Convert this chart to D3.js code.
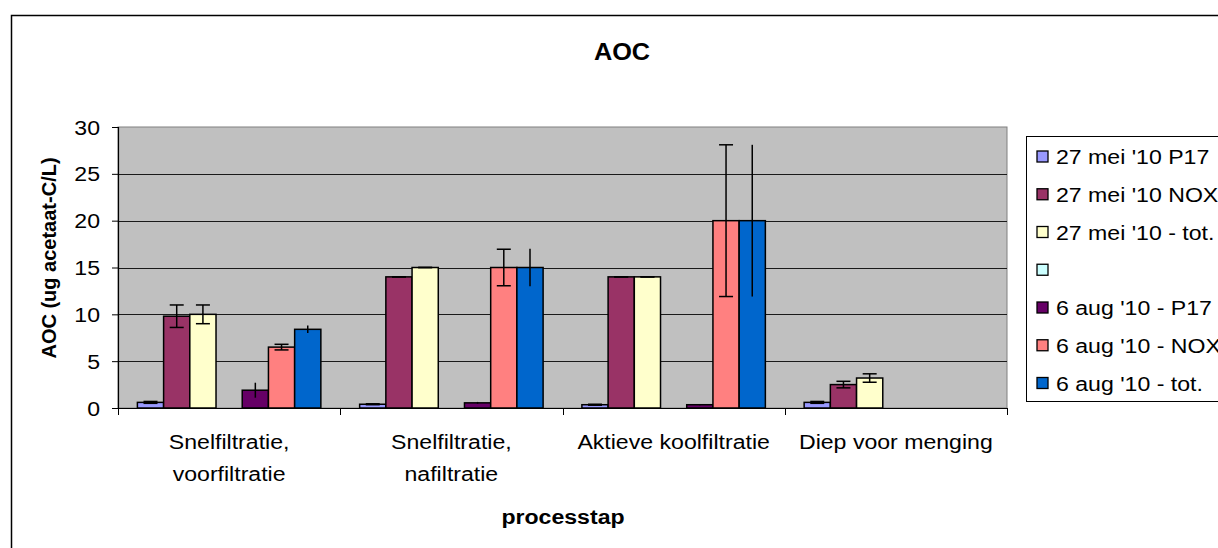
<!DOCTYPE html>
<html>
<head>
<meta charset="utf-8">
<script src="https://cdn.jsdelivr.net/npm/d3@7"></script>
<style>
  html, body { margin: 0; padding: 0; background: #fff; }
  svg { display: block; font-family: "Liberation Sans", Arial, sans-serif; }
</style>
</head>
<body>
<svg id="chart" width="1218" height="548"></svg>
<script>
// ---- data ----
const categories = [
  ["Snelfiltratie,", "voorfiltratie"],
  ["Snelfiltratie,", "nafiltratie"],
  ["Aktieve koolfiltratie"],
  ["Diep voor menging"]
];
const seriesNames = [
  "27 mei '10 P17",
  "27 mei '10 NOX",
  "27 mei '10 - tot.",
  "",
  "6 aug '10 - P17",
  "6 aug '10 - NOX",
  "6 aug '10 - tot."
];
const mei27P17   = [0.6, 0.4, 0.35, 0.6];
const mei27NOX   = [9.8, 14.0, 14.0, 2.5];
const mei27Tot   = [10.0, 15.0, 14.0, 3.2];
const emptySeries = [null, null, null, null];
const aug6P17    = [1.9, 0.55, 0.35, null];
const aug6NOX    = [6.5, 15.0, 20.0, null];
const aug6Tot    = [8.4, 15.0, 20.0, null];

const err27P17 = [0.1, 0.05, 0.05, 0.1];
const err27NOX = [1.2, 0, 0, 0.35];
const err27Tot = [1.0, 0, 0, 0.45];
const errEmpty = [null, null, null, null];
const err6P17  = [0.8, 0.1, 0.05, null];
const err6NOX  = [0.3, 1.95, 8.1, null];
const err6Tot  = [0.4, 2.0, 8.1, null];

const yTicks = [0, 5, 10, 15, 20, 25, 30];
const titleText = "AOC";
const yTitle = "AOC (ug acetaat-C/L)";
const xTitle = "processtap";

// ---- styles ----
const colors = ["#9999FF", "#993366", "#FFFFCC", "#CCFFFF", "#660066", "#FF8080", "#0066CC"];
const hasCaps = [true, true, true, false, false, true, false];
const allValues = [mei27P17, mei27NOX, mei27Tot, emptySeries, aug6P17, aug6NOX, aug6Tot];
const allErrors = [err27P17, err27NOX, err27Tot, errEmpty, err6P17, err6NOX, err6Tot];

const svg = d3.select("#chart");
const SX = 1.1; // horizontal stretch of text
const FONT = 21;

function hText(parent, x, y, str, opts = {}) {
  const g = parent.append("g").attr("transform", `translate(${x},${y}) scale(${SX},1)`);
  g.append("text")
    .attr("x", 0).attr("y", 0)
    .attr("text-anchor", opts.anchor || "middle")
    .attr("font-size", opts.size || FONT)
    .attr("font-weight", opts.weight || "normal")
    .attr("fill", "#000")
    .text(str);
  return g;
}

// outer frame
svg.append("rect")
  .attr("x", 11.5).attr("y", 15.5).attr("width", 1300).attr("height", 700)
  .attr("fill", "#fff").attr("stroke", "#000").attr("stroke-width", 1.5);

const plot = { left: 118, right: 1007, top: 127, bottom: 408 };

const y = d3.scaleLinear().domain([0, 30]).range([plot.bottom, plot.top]);
const x0 = d3.scaleBand().domain(d3.range(categories.length)).range([plot.left, plot.right]).padding(0);
const x1 = d3.scaleBand().domain(d3.range(seriesNames.length)).range([0, x0.bandwidth()])
  .paddingInner(0).paddingOuter(0.74);

// plot background
svg.append("rect")
  .attr("x", plot.left).attr("y", plot.top)
  .attr("width", plot.right - plot.left).attr("height", plot.bottom - plot.top)
  .attr("fill", "#C0C0C0").attr("stroke", "#808080").attr("stroke-width", 1);

// gridlines
svg.append("g").selectAll("line")
  .data(yTicks.filter(t => t > 0 && t < 30))
  .join("line")
  .attr("x1", plot.left).attr("x2", plot.right)
  .attr("y1", d => Math.round(y(d)) + 0.5).attr("y2", d => Math.round(y(d)) + 0.5)
  .attr("stroke", "#1a1a1a").attr("stroke-width", 1);

// y axis
const yAxis = d3.axisLeft(y).tickValues(yTicks).tickSize(6).tickFormat("");
const yg = svg.append("g").attr("transform", `translate(${plot.left},0)`).call(yAxis);
yg.select(".domain").attr("stroke", "#000").attr("stroke-width", 1.2);
yg.selectAll(".tick line").attr("stroke", "#000");
yTicks.forEach(t => hText(svg, 100, y(t) + 7.5, String(t), { anchor: "end" }));

// x axis
svg.append("line")
  .attr("x1", plot.left).attr("x2", plot.right)
  .attr("y1", plot.bottom + 0.5).attr("y2", plot.bottom + 0.5)
  .attr("stroke", "#000").attr("stroke-width", 1.2);
const xBounds = d3.range(categories.length + 1).map(i => i < categories.length ? x0(i) : plot.right);
svg.append("g").selectAll("line")
  .data(xBounds)
  .join("line")
  .attr("x1", d => Math.round(d) + 0.5).attr("x2", d => Math.round(d) + 0.5)
  .attr("y1", plot.bottom).attr("y2", plot.bottom + 7)
  .attr("stroke", "#000").attr("stroke-width", 1);

// category labels
categories.forEach((lines, i) => {
  const cx = x0(i) + x0.bandwidth() / 2;
  lines.forEach((ln, j) => hText(svg, cx, 449 + j * 32, ln));
});

// bars
const barData = [];
allValues.forEach((vals, s) => {
  vals.forEach((v, c) => {
    if (v !== null) barData.push({ s, c, v, e: allErrors[s][c] });
  });
});

svg.append("g").selectAll("rect")
  .data(barData)
  .join("rect")
  .attr("x", d => x0(d.c) + x1(d.s))
  .attr("y", d => y(d.v))
  .attr("width", x1.bandwidth())
  .attr("height", d => y(0) - y(d.v))
  .attr("fill", d => colors[d.s])
  .attr("stroke", "#000").attr("stroke-width", 1.5);

// error bars
const eg = svg.append("g").attr("stroke", "#000").attr("stroke-width", 1.5);
barData.filter(d => d.e !== null).forEach(d => {
  const cx = x0(d.c) + x1(d.s) + x1.bandwidth() / 2;
  const yt = y(d.v + d.e), yb = y(d.v - d.e);
  eg.append("line").attr("x1", cx).attr("x2", cx).attr("y1", yt).attr("y2", yb);
  if (hasCaps[d.s]) {
    eg.append("line").attr("x1", cx - 7).attr("x2", cx + 7).attr("y1", yt).attr("y2", yt);
    eg.append("line").attr("x1", cx - 7).attr("x2", cx + 7).attr("y1", yb).attr("y2", yb);
  }
});

// titles
hText(svg, 622, 60, titleText, { weight: "bold", size: 23 });
hText(svg, 563, 524, xTitle, { weight: "bold" });
svg.append("text")
  .attr("transform", `translate(56,258) rotate(-90)`)
  .attr("text-anchor", "middle")
  .attr("font-size", 20).attr("font-weight", "bold")
  .text(yTitle);

// legend
svg.append("rect")
  .attr("x", 1026.5).attr("y", 136.5).attr("width", 300).attr("height", 265)
  .attr("fill", "#fff").attr("stroke", "#000").attr("stroke-width", 1);
const ly = d3.scalePoint().domain(d3.range(seriesNames.length)).range([156.5, 383]);
seriesNames.forEach((name, i) => {
  svg.append("rect")
    .attr("x", 1037).attr("y", ly(i) - 5.5).attr("width", 11).attr("height", 11)
    .attr("fill", colors[i]).attr("stroke", "#000").attr("stroke-width", 1.3);
  hText(svg, 1056, ly(i) + 7.5, name, { anchor: "start" });
});
</script>
</body>
</html>
